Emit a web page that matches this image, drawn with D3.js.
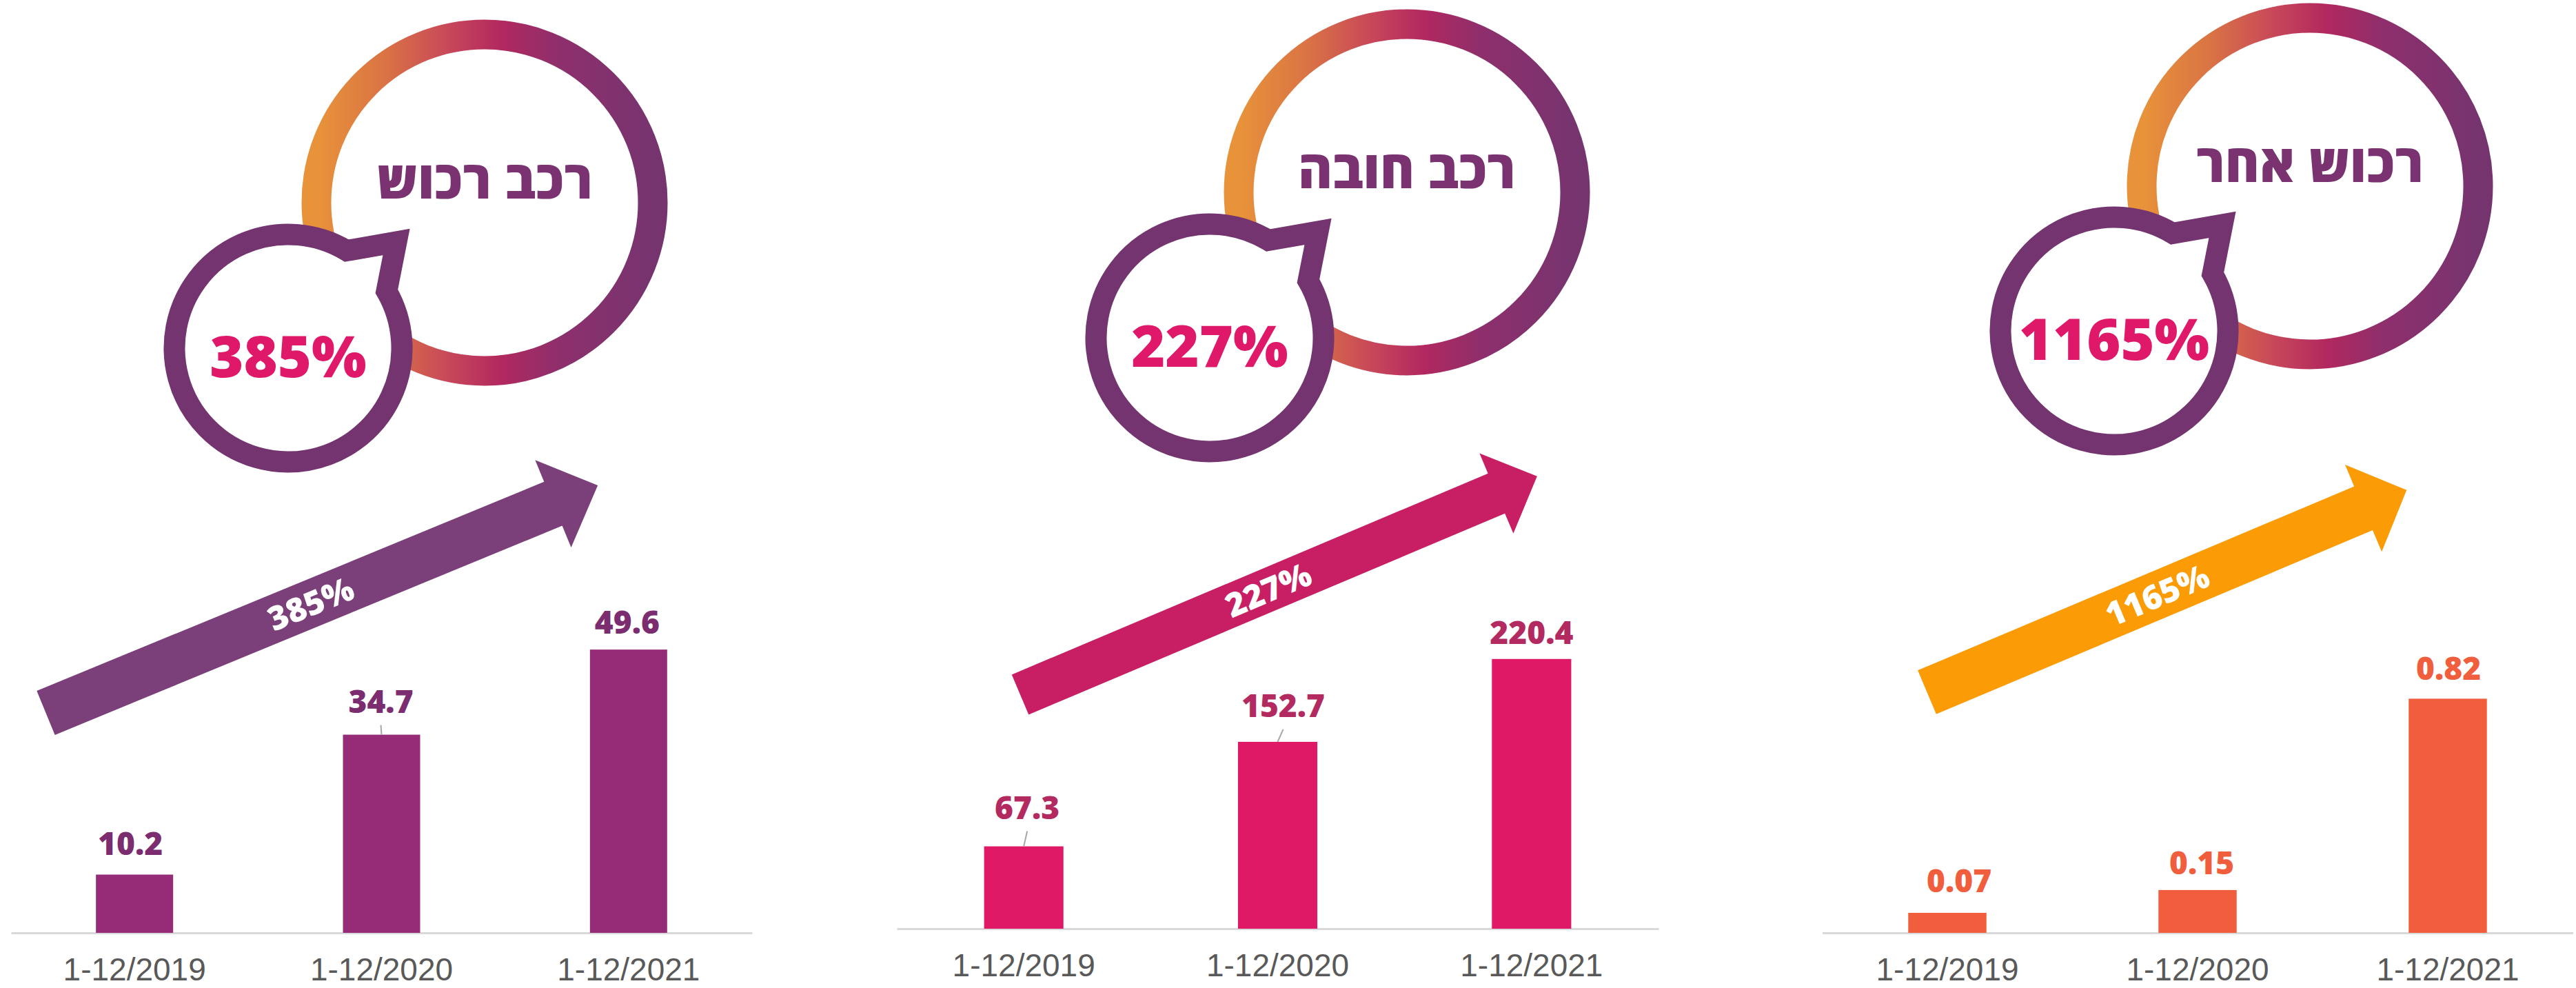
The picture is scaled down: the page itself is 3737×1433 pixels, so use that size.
<!DOCTYPE html>
<html>
<head>
<meta charset="utf-8">
<script src="https://cdn.jsdelivr.net/npm/d3@7"></script>
<style>
  body { margin: 0; background: #fff; }
  svg { display: block; }
</style>
</head>
<body>
<script>
// data
var periods = ["1-12/2019", "1-12/2020", "1-12/2021"];
var titles = ["רכב רכוש", "רכב חובה", "רכוש אחר"];
var growthLabels = ["385%", "227%", "1165%"];
var rechevRechush = [10.2, 34.7, 49.6];
var rechevHova = [67.3, 152.7, 220.4];
var rechushAher = [0.07, 0.15, 0.82];
var yMax = [60, 280, 1.2];
var valueFormats = [".1f", ".1f", ".2f"];

// layout per panel (positions / styles only)
var layout = [
    { x0: 16, x1: 1091, base: 1353, ring: [703, 294], bubble: [418, 505],
      arrow: { x: 66.5, y: 1034, ang: -22.4, len: 866, w: 69, hw: 137, hl: 70 },
      bar: "#962B77", label: "#7B2D6F", arrowFill: "#7B3F7A",
      nudge: [[-6, 29], [-1, 32], [-2, 23]], leader: [false, true, false] },
    { x0: 1301, x1: 2406, base: 1347, ring: [2041, 279], bubble: [1755, 490],
      arrow: { x: 1480, y: 1007.5, ang: -22.9, len: 814, w: 63, hw: 126, hl: 64 },
      bar: "#E01966", label: "#B32A60", arrowFill: "#C81E64",
      nudge: [[5, 40], [8, 36], [0, 22]], leader: [true, true, false] },
    { x0: 2643.5, x1: 3732.5, base: 1353, ring: [3351, 270], bubble: [3067, 480],
      arrow: { x: 2795.5, y: 1004, ang: -22.85, len: 755, w: 69, hw: 137, hl: 68 },
      bar: "#F05E3E", label: "#F05E3E", arrowFill: "#FB9B06",
      nudge: [[17, 30], [6, 23], [1, 27]], leader: [false, false, false] }
];
var series = [rechevRechush, rechevHova, rechushAher];

var width = 3737, height = 1433, plotH = 497;

var svg = d3.select("body").append("svg")
    .attr("width", width)
    .attr("height", height);

var defs = svg.append("defs");
var grad = defs.append("linearGradient")
    .attr("id", "ringGrad")
    .attr("x1", 0).attr("y1", 0).attr("x2", 1).attr("y2", 0);
[[0, "#E8933A"], [0.2, "#DA7444"], [0.4, "#C7465A"], [0.55, "#B2285F"],
 [0.72, "#8E2F6C"], [1, "#76346F"]].forEach(function (s) {
    grad.append("stop").attr("offset", s[0]).attr("stop-color", s[1]);
});

function bubblePath(r) {
    // circle with a speech tail pointing up-right
    var a0 = -59 * Math.PI / 180, a1 = -30 * Math.PI / 180;
    var p = d3.path();
    p.moveTo(r * Math.cos(a0), r * Math.sin(a0));
    p.lineTo(157, -154);
    p.lineTo(r * Math.cos(a1), r * Math.sin(a1));
    p.arc(0, 0, r, a1, a0 + 2 * Math.PI);
    p.closePath();
    return p.toString();
}

function arrowPath(a) {
    var p = d3.path();
    var b = a.len - a.hl;
    p.moveTo(0, -a.w / 2);
    p.lineTo(b, -a.w / 2);
    p.lineTo(b, -a.hw / 2);
    p.lineTo(a.len, 0);
    p.lineTo(b, a.hw / 2);
    p.lineTo(b, a.w / 2);
    p.lineTo(0, a.w / 2);
    p.closePath();
    return p.toString();
}

layout.forEach(function (L, i) {
    var values = series[i];
    var fmt = d3.format(valueFormats[i]);
    var g = svg.append("g").attr("class", "panel");

    var x = d3.scaleBand()
        .domain(periods)
        .range([L.x0, L.x1])
        .paddingInner(0.6875)
        .paddingOuter(0.34375);
    var y = d3.scaleLinear()
        .domain([0, yMax[i]])
        .range([L.base, L.base - plotH]);

    // header: ring + title
    g.append("circle")
        .attr("cx", L.ring[0]).attr("cy", L.ring[1]).attr("r", 244)
        .attr("fill", "none")
        .attr("stroke", "url(#ringGrad)")
        .attr("stroke-width", 43);
    g.append("text")
        .attr("x", L.ring[0]).attr("y", L.ring[1] - 6)
        .attr("text-anchor", "middle")
        .attr("direction", "rtl")
        .attr("font-family", "'Open Sans', 'DejaVu Sans Condensed', sans-serif")
        .attr("font-weight", 800)
        .attr("font-size", 76)
        .attr("fill", "#7A3270")
        .text(titles[i]);

    // speech bubble with growth %
    g.append("path")
        .attr("transform", "translate(" + L.bubble[0] + "," + L.bubble[1] + ")")
        .attr("d", bubblePath(165))
        .attr("fill", "#fff")
        .attr("stroke", "#74346F")
        .attr("stroke-width", 31)
        .attr("stroke-linejoin", "miter");
    g.append("text")
        .attr("x", L.bubble[0]).attr("y", L.bubble[1] + 42)
        .attr("text-anchor", "middle")
        .attr("font-family", "'Open Sans', sans-serif")
        .attr("font-weight", 800)
        .attr("font-size", 84)
        .attr("fill", "#E0186A")
        .text(growthLabels[i]);

    // big trend arrow
    var ag = g.append("g")
        .attr("transform", "translate(" + L.arrow.x + "," + L.arrow.y + ") rotate(" + L.arrow.ang + ")");
    ag.append("path")
        .attr("d", arrowPath(L.arrow))
        .attr("fill", L.arrowFill);
    ag.append("text")
        .attr("x", L.arrow.len * 0.48).attr("y", 0)
        .attr("dy", "0.36em")
        .attr("text-anchor", "middle")
        .attr("font-family", "'Open Sans', sans-serif")
        .attr("font-weight", 800)
        .attr("font-size", 48)
        .attr("fill", "#fff")
        .text(growthLabels[i]);

    // axis
    var axis = g.append("g")
        .attr("transform", "translate(0," + L.base + ")")
        .call(d3.axisBottom(x).tickSize(0).tickSizeOuter(0));
    axis.select(".domain")
        .attr("stroke", "#D9D9D9")
        .attr("stroke-width", 3);
    axis.selectAll("text")
        .attr("y", 69)
        .attr("dy", null)
        .attr("font-family", "'Liberation Sans', Arial, sans-serif")
        .attr("font-size", 46)
        .attr("fill", "#595959");

    // bars
    g.selectAll("rect.bar")
        .data(values)
        .enter().append("rect")
        .attr("class", "bar")
        .attr("x", function (d, j) { return x(periods[j]); })
        .attr("y", function (d) { return y(d); })
        .attr("width", x.bandwidth())
        .attr("height", function (d) { return y(0) - y(d); })
        .attr("fill", L.bar);

    // leader lines
    g.selectAll("line.leader")
        .data(values.filter(function (d, j) { return L.leader[j]; }))
        .enter().append("line")
        .attr("class", "leader")
        .each(function (d) {
            var j = values.indexOf(d);
            var cx = x(periods[j]) + x.bandwidth() / 2;
            d3.select(this)
                .attr("x1", cx + L.nudge[j][0])
                .attr("y1", y(d) - L.nudge[j][1] + 18)
                .attr("x2", cx)
                .attr("y2", y(d));
        })
        .attr("stroke", "#A6A6A6")
        .attr("stroke-width", 2);

    // value labels
    g.selectAll("text.value")
        .data(values)
        .enter().append("text")
        .attr("class", "value")
        .attr("x", function (d, j) { return x(periods[j]) + x.bandwidth() / 2 + L.nudge[j][0]; })
        .attr("y", function (d, j) { return y(d) - L.nudge[j][1]; })
        .attr("text-anchor", "middle")
        .attr("font-family", "'Open Sans', sans-serif")
        .attr("font-weight", 800)
        .attr("font-size", 46)
        .attr("fill", L.label)
        .text(function (d) { return fmt(d); });
});
</script>
</body>
</html>
